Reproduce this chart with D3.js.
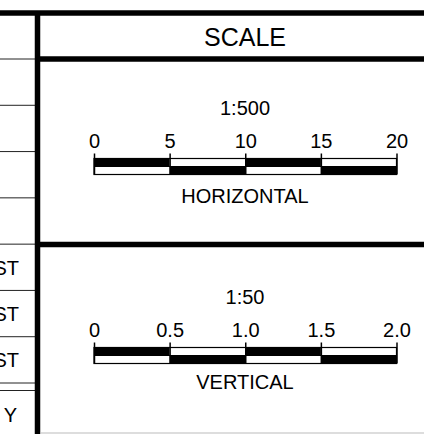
<!DOCTYPE html>
<html>
<head>
<meta charset="utf-8">
<script src="https://cdn.jsdelivr.net/npm/d3@7"></script>
<style>
  html, body { margin: 0; padding: 0; background: #fff; }
  svg { display: block; }
</style>
</head>
<body>
<div id="chart"></div>
<script>
// Data
const headerTitle = "SCALE"
const hTicks = [0, 5, 10, 15, 20]
const hTickLabels = ["0", "5", "10", "15", "20"]
const vTicks = [0, 0.5, 1, 1.5, 2]
const vTickLabels = ["0", "0.5", "1.0", "1.5", "2.0"]
const ratios = ["1:500", "1:50"]
const scaleNames = ["HORIZONTAL", "VERTICAL"]
const rowLabels = ["", "", "", "", "NORTHEAST", "SOUTHEAST", "SOUTHWEST"]
const lastRowLabel = "Y"

// Constants
const width = 424
const height = 434
const fontFamily = "'Liberation Sans', Arial, sans-serif"
const divX = 37.5
const thick = 5.5
const topY = 13
const headerY = 59
const midY = 244.5
const centerX = 245

const panels = [
    { ticks: hTicks, labels: hTickLabels, ratio: ratios[0], name: scaleNames[0], ratioY: 115, barY: 158.5, nameY: 203 },
    { ticks: vTicks, labels: vTickLabels, ratio: ratios[1], name: scaleNames[1], ratioY: 304, barY: 347.5, nameY: 388.5 }
]
const barH = 16
const tickH = 21

const svg = d3.select("#chart")
    .append("svg")
    .attr("width", width)
    .attr("height", height)

// Left column rows
const rowY = d3.scaleBand()
    .domain(d3.range(rowLabels.length))
    .range([headerY, 383])

const leftGroup = svg.append("g").attr("id", "leftGroup")

leftGroup.selectAll(".rowline")
    .data(d3.range(rowLabels.length + 1))
    .enter()
    .append("line")
    .attr("x1", 0)
    .attr("x2", divX)
    .attr("y1", i => i < rowLabels.length ? rowY(i) : rowY(i - 1) + rowY.bandwidth())
    .attr("y2", i => i < rowLabels.length ? rowY(i) : rowY(i - 1) + rowY.bandwidth())
    .style("stroke", "#222")
    .style("stroke-width", 1)

const lastTop = 390.5
leftGroup.append("line")
    .attr("x1", 0).attr("x2", divX)
    .attr("y1", lastTop).attr("y2", lastTop)
    .style("stroke", "#222")
    .style("stroke-width", 1)

leftGroup.selectAll(".rowlabel")
    .data(rowLabels)
    .enter()
    .append("text")
    .attr("x", 19)
    .attr("y", (d, i) => rowY(i) + rowY.bandwidth() / 2 + 7.5)
    .style("text-anchor", "end")
    .style("font-family", fontFamily)
    .style("font-size", "20px")
    .style("fill", "#000")
    .text(d => d)

leftGroup.append("text")
    .attr("x", 17)
    .attr("y", 422)
    .style("text-anchor", "end")
    .style("font-family", fontFamily)
    .style("font-size", "20px")
    .style("fill", "#000")
    .text(lastRowLabel)

// Frame lines
const frame = svg.append("g").attr("id", "frame")
frame.append("line")
    .attr("x1", 0).attr("x2", width)
    .attr("y1", topY).attr("y2", topY)
    .style("stroke", "#000").style("stroke-width", thick)
frame.append("line")
    .attr("x1", divX).attr("x2", divX)
    .attr("y1", topY).attr("y2", height)
    .style("stroke", "#000").style("stroke-width", thick)
frame.append("line")
    .attr("x1", divX).attr("x2", width)
    .attr("y1", headerY).attr("y2", headerY)
    .style("stroke", "#000").style("stroke-width", thick)
frame.append("line")
    .attr("x1", divX).attr("x2", width)
    .attr("y1", midY).attr("y2", midY)
    .style("stroke", "#000").style("stroke-width", thick)
frame.append("line")
    .attr("x1", divX + thick / 2).attr("x2", width)
    .attr("y1", 433).attr("y2", 433)
    .style("stroke", "#bbb").style("stroke-width", 1)

// Header
svg.append("text")
    .attr("x", centerX)
    .attr("y", 46)
    .style("text-anchor", "middle")
    .style("font-family", fontFamily)
    .style("font-size", "25px")
    .style("fill", "#000")
    .text(headerTitle)

// Scale bars
panels.forEach(p => {
    const x = d3.scaleLinear()
        .domain(d3.extent(p.ticks))
        .range([94, 396.5])

    const g = svg.append("g")

    g.append("text")
        .attr("x", centerX)
        .attr("y", p.ratioY)
        .style("text-anchor", "middle")
        .style("font-family", fontFamily)
        .style("font-size", "20px")
        .style("fill", "#000")
        .text(p.ratio)

    const segments = d3.pairs(p.ticks)

    // white base with outline
    g.append("rect")
        .attr("x", x(p.ticks[0]))
        .attr("y", p.barY)
        .attr("width", x(p.ticks[p.ticks.length - 1]) - x(p.ticks[0]))
        .attr("height", barH)
        .style("fill", "#fff")
        .style("stroke", "#000")
        .style("stroke-width", 1.2)

    g.selectAll(".seg")
        .data(segments)
        .enter()
        .append("rect")
        .attr("x", d => x(d[0]))
        .attr("y", (d, i) => i % 2 === 0 ? p.barY : p.barY + barH / 2)
        .attr("width", d => x(d[1]) - x(d[0]))
        .attr("height", barH / 2)
        .style("fill", "#000")

    g.append("line")
        .attr("x1", x(p.ticks[0]))
        .attr("x2", x(p.ticks[p.ticks.length - 1]))
        .attr("y1", p.barY + barH / 2)
        .attr("y2", p.barY + barH / 2)
        .style("stroke", "#000")
        .style("stroke-width", 1)

    const axis = d3.axisTop(x)
        .tickValues(p.ticks)
        .tickFormat((d, i) => p.labels[i])
        .tickSize(tickH)
        .tickPadding(6)

    const axisGroup = g.append("g")
        .attr("transform", `translate(0, ${p.barY + barH})`)
        .call(axis)
    axisGroup.select(".domain").remove()
    axisGroup.selectAll("line")
        .style("stroke", "#000")
        .style("stroke-width", 1.5)
    axisGroup.selectAll("text")
        .style("font-family", fontFamily)
        .style("font-size", "20px")
        .style("fill", "#000")

    g.append("text")
        .attr("x", centerX)
        .attr("y", p.nameY)
        .style("text-anchor", "middle")
        .style("font-family", fontFamily)
        .style("font-size", "20px")
        .style("fill", "#000")
        .text(p.name)
})
</script>
</body>
</html>
